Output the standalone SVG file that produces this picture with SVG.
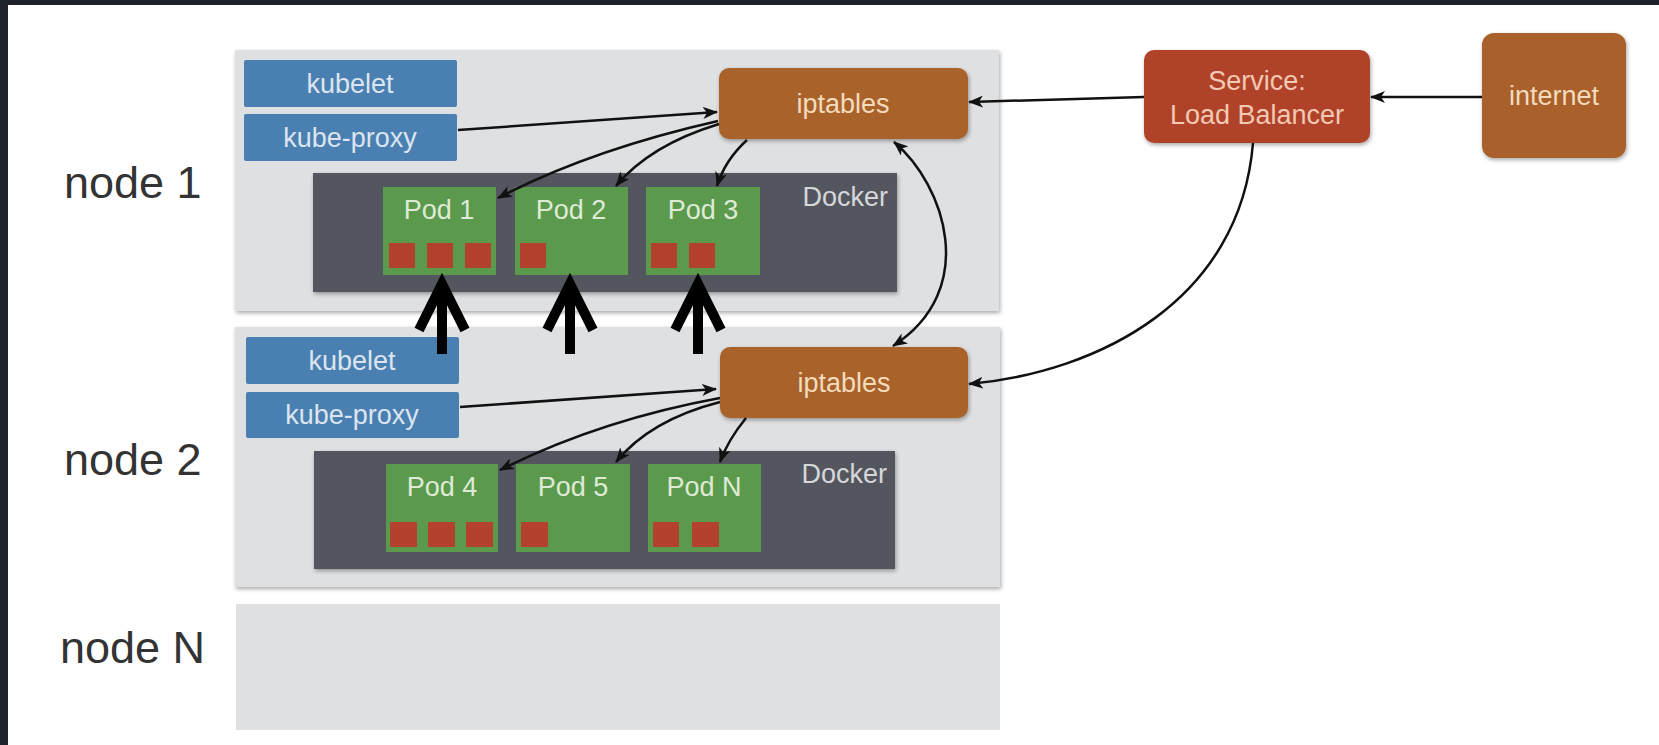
<svg xmlns="http://www.w3.org/2000/svg" width="1659" height="745" viewBox="0 0 1659 745">
<defs>
<style>
.frame{fill:#1e222a}
.panel{fill:#dfe0e2}
.blue{fill:#4a7fb1}
.docker{fill:#53565e}
.pod{fill:#5b9a4c}
.sq{fill:#b4412e}
.ipt{fill:#a8622a}
.svc{fill:#b0432b}
.inet{fill:#a9612b}
text{font-family:"Liberation Sans",Arial,Helvetica,sans-serif;text-anchor:middle}
.t24{font-size:27px}
.tb{fill:#dce5ef}
.tp{fill:#dfead6}
.td{fill:#d6d7da;text-anchor:end}
.to{fill:#f3dbbd}
.ts{fill:#f2c9b2}
.nl{font-size:45px;fill:#333;text-anchor:start}
.conn{fill:none;stroke:#111;stroke-width:2.5}
.big{fill:none;stroke:#000;stroke-width:10;stroke-linejoin:miter}
</style>
<marker id="ah" markerUnits="userSpaceOnUse" markerWidth="16" markerHeight="12" refX="14" refY="6" orient="auto-start-reverse">
<path d="M0,0 L15,6 L0,12 L4,6 Z" fill="#111"/>
</marker>
<filter id="sh" x="-20%" y="-20%" width="140%" height="140%">
<feGaussianBlur in="SourceAlpha" stdDeviation="2"/>
<feOffset dx="1" dy="2"/>
<feComponentTransfer><feFuncA type="linear" slope="0.35"/></feComponentTransfer>
<feMerge><feMergeNode/><feMergeNode in="SourceGraphic"/></feMerge>
</filter>
</defs>
<rect width="1659" height="745" fill="#ffffff"/>
<rect class="frame" x="0" y="0" width="1659" height="5"/>
<rect class="frame" x="0" y="0" width="8" height="745"/>

<g id="node1">
<rect class="panel" x="235" y="50" width="764" height="261" filter="url(#sh)"/>
<text class="nl" x="64" y="198">node 1</text>
</g>
<g id="node2">
<rect class="panel" x="235" y="327" width="765" height="260" filter="url(#sh)"/>
<text class="nl" x="64" y="475">node 2</text>
</g>
<g id="nodeN">
<rect class="panel" x="236" y="604" width="764" height="126"/>
<text class="nl" x="60" y="663">node N</text>
</g>

<g id="kubelet1"><rect class="blue" x="244" y="60" width="213" height="47" rx="2"/><text class="t24 tb" x="350" y="93">kubelet</text></g>
<g id="kubeproxy1"><rect class="blue" x="244" y="114" width="213" height="47" rx="2"/><text class="t24 tb" x="350" y="147">kube-proxy</text></g>
<g id="docker1"><rect class="docker" x="313" y="173" width="584" height="119" filter="url(#sh)"/><text class="t24 td" x="888" y="206">Docker</text></g>
<g id="pod1"><rect class="pod" x="383" y="187" width="113" height="88"/><text class="t24 tp" x="439" y="219">Pod 1</text>
<rect class="sq" x="389" y="243" width="26" height="25"/><rect class="sq" x="427" y="243" width="26" height="25"/><rect class="sq" x="465" y="243" width="26" height="25"/></g>
<g id="pod2"><rect class="pod" x="515" y="187" width="113" height="88"/><text class="t24 tp" x="571" y="219">Pod 2</text>
<rect class="sq" x="520" y="243" width="26" height="25"/></g>
<g id="pod3"><rect class="pod" x="646" y="187" width="114" height="88"/><text class="t24 tp" x="703" y="219">Pod 3</text>
<rect class="sq" x="651" y="243" width="26" height="25"/><rect class="sq" x="689" y="243" width="26" height="25"/></g>
<g id="iptables1"><rect class="ipt" x="719" y="68" width="249" height="71" rx="10" filter="url(#sh)"/><text class="t24 to" x="843" y="113">iptables</text></g>

<g id="kubelet2"><rect class="blue" x="246" y="337" width="213" height="47" rx="2"/><text class="t24 tb" x="352" y="370">kubelet</text></g>
<g id="kubeproxy2"><rect class="blue" x="246" y="392" width="213" height="46" rx="2"/><text class="t24 tb" x="352" y="424">kube-proxy</text></g>
<g id="docker2"><rect class="docker" x="314" y="451" width="581" height="118" filter="url(#sh)"/><text class="t24 td" x="887" y="483">Docker</text></g>
<g id="pod4"><rect class="pod" x="386" y="464" width="112" height="88"/><text class="t24 tp" x="442" y="496">Pod 4</text>
<rect class="sq" x="390" y="522" width="27" height="25"/><rect class="sq" x="428" y="522" width="27" height="25"/><rect class="sq" x="466" y="522" width="27" height="25"/></g>
<g id="pod5"><rect class="pod" x="516" y="464" width="114" height="88"/><text class="t24 tp" x="573" y="496">Pod 5</text>
<rect class="sq" x="521" y="522" width="27" height="25"/></g>
<g id="podN"><rect class="pod" x="648" y="464" width="113" height="88"/><text class="t24 tp" x="704" y="496">Pod N</text>
<rect class="sq" x="653" y="522" width="26" height="25"/><rect class="sq" x="692" y="522" width="27" height="25"/></g>
<g id="iptables2"><rect class="ipt" x="720" y="347" width="248" height="71" rx="10" filter="url(#sh)"/><text class="t24 to" x="844" y="392">iptables</text></g>

<g id="service"><rect class="svc" x="1144" y="50" width="226" height="93" rx="10" filter="url(#sh)"/>
<text class="t24 ts" x="1257" y="90">Service:</text><text class="t24 ts" x="1257" y="124">Load Balancer</text></g>
<g id="internet"><rect class="inet" x="1482" y="33" width="144" height="125" rx="12" filter="url(#sh)"/><text class="t24 to" x="1554" y="105">internet</text></g>

<g id="connectors">
<path class="conn" d="M1482,97 L1371,97" marker-end="url(#ah)"/>
<path class="conn" d="M1144,97 L969,102" marker-end="url(#ah)"/>
<path class="conn" d="M1253,143 C1240,300 1100,372 969,384" marker-end="url(#ah)"/>
<path class="conn" d="M894,142 C945,185 980,290 893,346" marker-start="url(#ah)" marker-end="url(#ah)"/>
<path class="conn" d="M458,130 L717,112" marker-end="url(#ah)"/>
<path class="conn" d="M718,121 Q590,150 498,198" marker-end="url(#ah)"/>
<path class="conn" d="M719,124 Q650,145 616,186" marker-end="url(#ah)"/>
<path class="conn" d="M747,140 Q725,160 717,186" marker-end="url(#ah)"/>
<path class="conn" d="M460,407 L716,389" marker-end="url(#ah)"/>
<path class="conn" d="M720,398 Q600,420 500,470" marker-end="url(#ah)"/>
<path class="conn" d="M720,402 Q650,420 616,462" marker-end="url(#ah)"/>
<path class="conn" d="M746,418 Q728,440 720,462" marker-end="url(#ah)"/>
<path class="big" d="M442,354 L442,284 M419,330 L442,284 L465,330"/>
<path class="big" d="M570,354 L570,284 M547,330 L570,284 L593,330"/>
<path class="big" d="M698,354 L698,284 M675,330 L698,284 L721,330"/>
</g>
</svg>
